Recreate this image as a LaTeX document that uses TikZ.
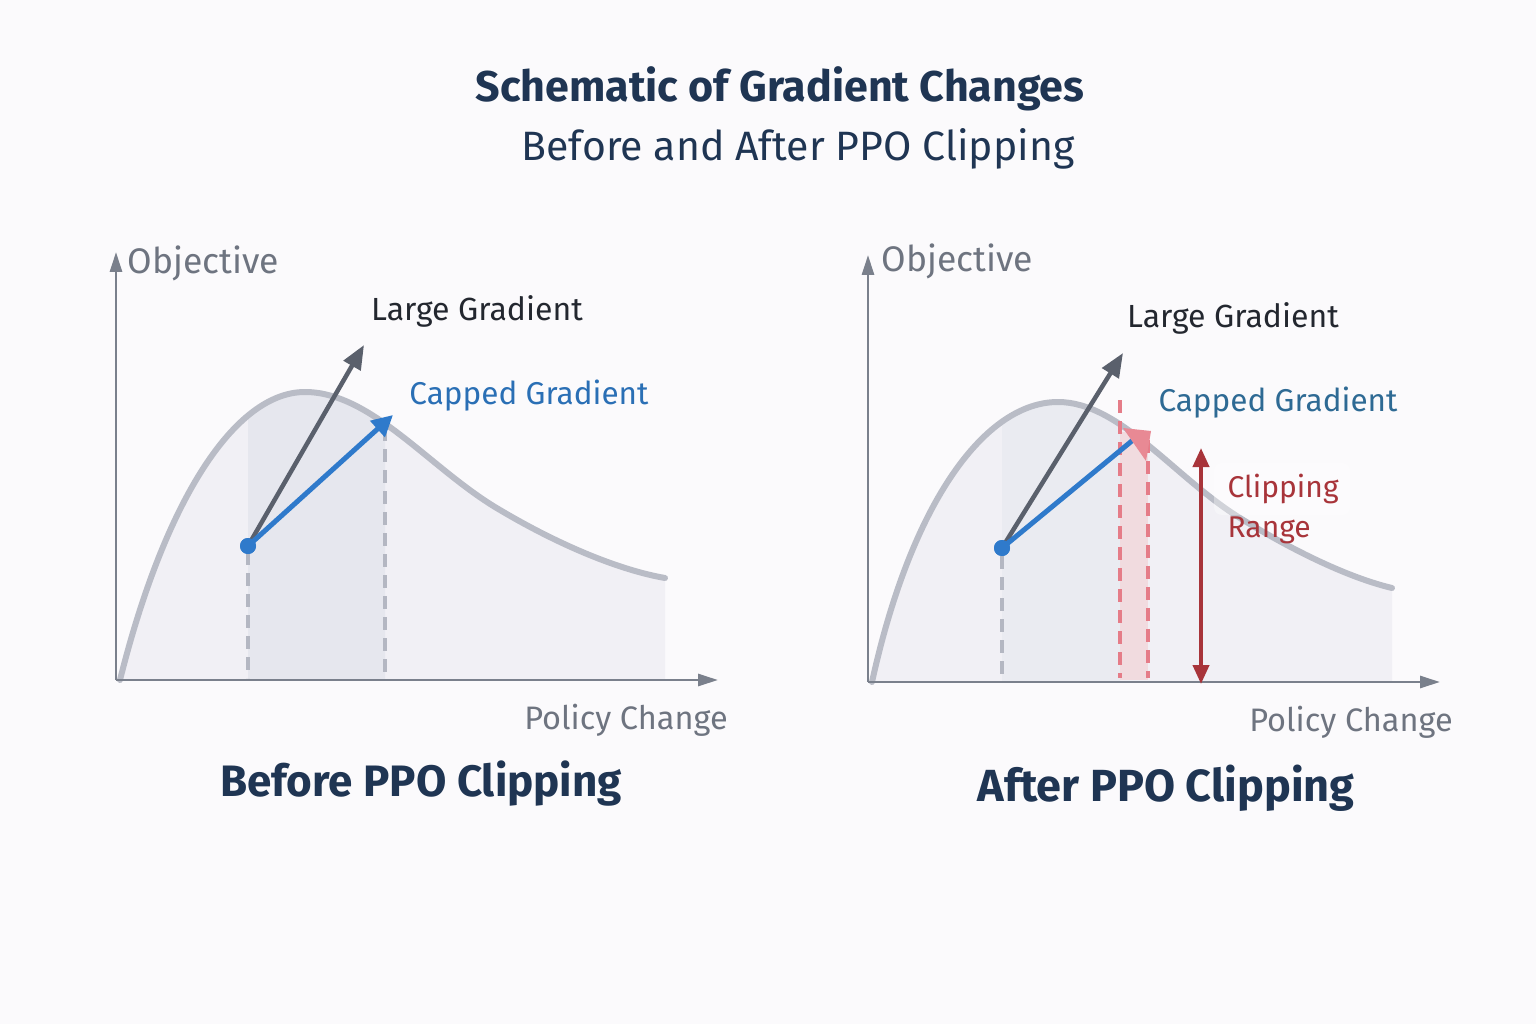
\documentclass[tikz,border=0pt]{standalone}
\usepackage{fontspec}
\setmainfont{Fira Sans}
\usetikzlibrary{arrows.meta}
\definecolor{bgc}{HTML}{FBFAFC}
\definecolor{axisc}{HTML}{7A808C}
\definecolor{curvec}{HTML}{B9BCC6}
\definecolor{fillc}{HTML}{F1F0F5}
\definecolor{fillb}{HTML}{E6E7EE}
\definecolor{darkarr}{HTML}{5A606C}
\definecolor{bluec}{HTML}{2F7ACB}
\definecolor{bluelab}{HTML}{2A6FB5}
\definecolor{tealab}{HTML}{2E6A94}
\definecolor{redc}{HTML}{A8343A}
\definecolor{pinkc}{HTML}{E57C88}
\definecolor{pinkband}{HTML}{F2D8DC}
\definecolor{navy}{HTML}{1F3553}
\definecolor{labgray}{HTML}{6E7480}
\definecolor{darktext}{HTML}{23272F}
\definecolor{dashgray}{HTML}{B4B7C2}
\tikzset{
  axisline/.style={draw=axisc, line width=2.8pt, -{Triangle[length=20pt,width=12pt]}},
  curveline/.style={draw=curvec, line width=6pt, line cap=round},
  bigarrow/.style={draw=darkarr, line width=4.5pt, -{Triangle[length=24pt,width=19pt]}},
  capline/.style={draw=bluec, line width=5pt},
  guide/.style={draw=dashgray, line width=3.5pt, dash pattern=on 13pt off 8pt},
  pinkguide/.style={draw=pinkc, line width=3.5pt, dash pattern=on 13pt off 8pt},
  axislabel/.style={text=labgray, font=\fontsize{35.5}{40}\selectfont},
  pclabel/.style={text=labgray, font=\fontsize{32.5}{38}\selectfont},
  gradlabel/.style={text=darktext, font=\fontsize{32}{38}\selectfont},
  caplabel/.style={font=\fontsize{31.5}{36}\selectfont},
  cliplabel/.style={text=redc, font=\fontsize{30}{36}\selectfont},
  panellabel/.style={text=navy, font=\bfseries\fontsize{44}{50}\selectfont},
  dotstyle/.style={circle, fill=bluec, inner sep=0pt, minimum size=16pt},
}
\begin{document}
\begin{tikzpicture}[x=1pt,y=-1pt]
\useasboundingbox (0,0) rectangle (1536,1024);
\fill[bgc] (0,0) rectangle (1536,1024);

% titles
\node[anchor=base, text=navy, font=\bfseries\fontsize{43}{48}\selectfont] (title) at (780,102) {Schematic of Gradient Changes};
\node[anchor=base, text=navy, font=\fontsize{41}{46}\selectfont] (subtitle) at (798,161) {Before and After PPO Clipping};

% ================= LEFT PANEL =================
\coordinate (Lo) at (116,680);
\coordinate (Ly) at (116,252);
\coordinate (Lx) at (718,680);
\fill[fillc] (120,680) .. controls (165,500) and (235,392) .. (305,392)
  .. controls (372,392) and (431,470) .. (500,510)
  .. controls (559,545) and (619,570) .. (665,578) -- (665,680) -- cycle;
\begin{scope}
\clip (248,300) rectangle (385,680);
\fill[fillb] (120,680) .. controls (165,500) and (235,392) .. (305,392)
  .. controls (372,392) and (431,470) .. (500,510)
  .. controls (559,545) and (619,570) .. (665,578) -- (665,680) -- cycle;
\end{scope}
\draw[curveline] (120,680) .. controls (165,500) and (235,392) .. (305,392)
  .. controls (372,392) and (431,470) .. (500,510)
  .. controls (559,545) and (619,570) .. (665,578);
% guides
\coordinate (Lg1t) at (248,552);
\coordinate (Lg1b) at (248,678);
\coordinate (Lg2t) at (385,428);
\coordinate (Lg2b) at (385,678);
\draw[guide] (Lg1t) -- (Lg1b);
\draw[guide] (Lg2t) -- (Lg2b);
% axes
\draw[axisline] (Lo) -- (Ly);
\draw[axisline] (Lo) -- (Lx);
% arrows
\node[dotstyle] (Ldot) at (248,546) {};
\coordinate (Lbig) at (364,345);
\coordinate (Lcap) at (393,415);
\draw[bigarrow] (Ldot.center) -- (Lbig);
\draw[capline, -{Triangle[length=21pt,width=21pt]}] (Ldot.center) -- (Lcap);
\node[dotstyle] at (248,546) {};
% labels
\node[axislabel, anchor=base west] (Lobj) at (124,273) {Objective};
\node[gradlabel, anchor=base] (Llg) at (477,320) {Large Gradient};
\node[caplabel, text=bluelab, anchor=base] (Lcg) at (529,404) {Capped Gradient};
\node[pclabel, anchor=base] (Lpc) at (626,729) {Policy Change};
\node[panellabel, anchor=base] (Lpanel) at (421,796) {Before PPO Clipping};

% ================= RIGHT PANEL =================
\coordinate (Ro) at (868,682);
\coordinate (Ry) at (868,255);
\coordinate (Rx) at (1440,682);
\fill[fillc] (872,682) .. controls (912,500) and (986,402) .. (1058,402)
  .. controls (1120,402) and (1175,478) .. (1240,518)
  .. controls (1295,552) and (1350,578) .. (1392,588) -- (1392,682) -- cycle;
\begin{scope}
\clip (1002,300) rectangle (1120,682);
\fill[fillb!60!fillc] (872,682) .. controls (912,500) and (986,402) .. (1058,402)
  .. controls (1120,402) and (1175,478) .. (1240,518)
  .. controls (1295,552) and (1350,578) .. (1392,588) -- (1392,682) -- cycle;
\end{scope}
% pink band
\fill[pinkband, opacity=0.85] (1120,432) rectangle (1148,680);
\draw[curveline] (872,682) .. controls (912,500) and (986,402) .. (1058,402)
  .. controls (1120,402) and (1175,478) .. (1240,518)
  .. controls (1295,552) and (1350,578) .. (1392,588);
% guides
\coordinate (Rg1t) at (1002,556);
\coordinate (Rg1b) at (1002,680);
\coordinate (Rp1t) at (1120,400);
\coordinate (Rp1b) at (1120,678);
\coordinate (Rp2t) at (1148,440);
\coordinate (Rp2b) at (1148,678);
\draw[guide] (Rg1t) -- (Rg1b);
\draw[pinkguide] (Rp1t) -- (Rp1b);
\draw[pinkguide] (Rp2t) -- (Rp2b);
% axes
\draw[axisline] (Ro) -- (Ry);
\draw[axisline] (Ro) -- (Rx);
% clipping range arrow
\coordinate (Rct) at (1201,448);
\coordinate (Rcb) at (1201,684);
\draw[draw=redc, line width=4pt, {Triangle[length=19pt,width=16pt]}-{Triangle[length=19pt,width=16pt]}] (Rct) -- (Rcb);
% arrows
\node[dotstyle] (Rdot) at (1002,548) {};
\coordinate (Rbig) at (1123,353);
\coordinate (Rcap) at (1133,440);
\draw[bigarrow] (Rdot.center) -- (Rbig);
\draw[capline] (Rdot.center) -- (Rcap);
\fill[pinkc!90!white] (1123,428) -- (1151,431) -- (1146,461) -- cycle;
\node[dotstyle] at (1002,548) {};
% labels
\node[axislabel, anchor=base west] (Robj) at (878,272) {Objective};
\node[gradlabel, anchor=base] (Rlg) at (1233,327) {Large Gradient};
\node[caplabel, text=tealab, anchor=base] (Rcg) at (1278,411) {Capped Gradient};
\fill[white, opacity=0.35, rounded corners=8pt] (1214,463) rectangle (1350,515);
\node[cliplabel, anchor=base west] (Rclip) at (1224,497) {Clipping};
\node[cliplabel, anchor=base west] (Rrange) at (1224,537) {Range};
\node[pclabel, anchor=base] (Rpc) at (1351,731) {Policy Change};
\node[panellabel, font=\bfseries\fontsize{45}{50}\selectfont, anchor=base] (Rpanel) at (1166,801) {After PPO Clipping};
\end{tikzpicture}
\end{document}
